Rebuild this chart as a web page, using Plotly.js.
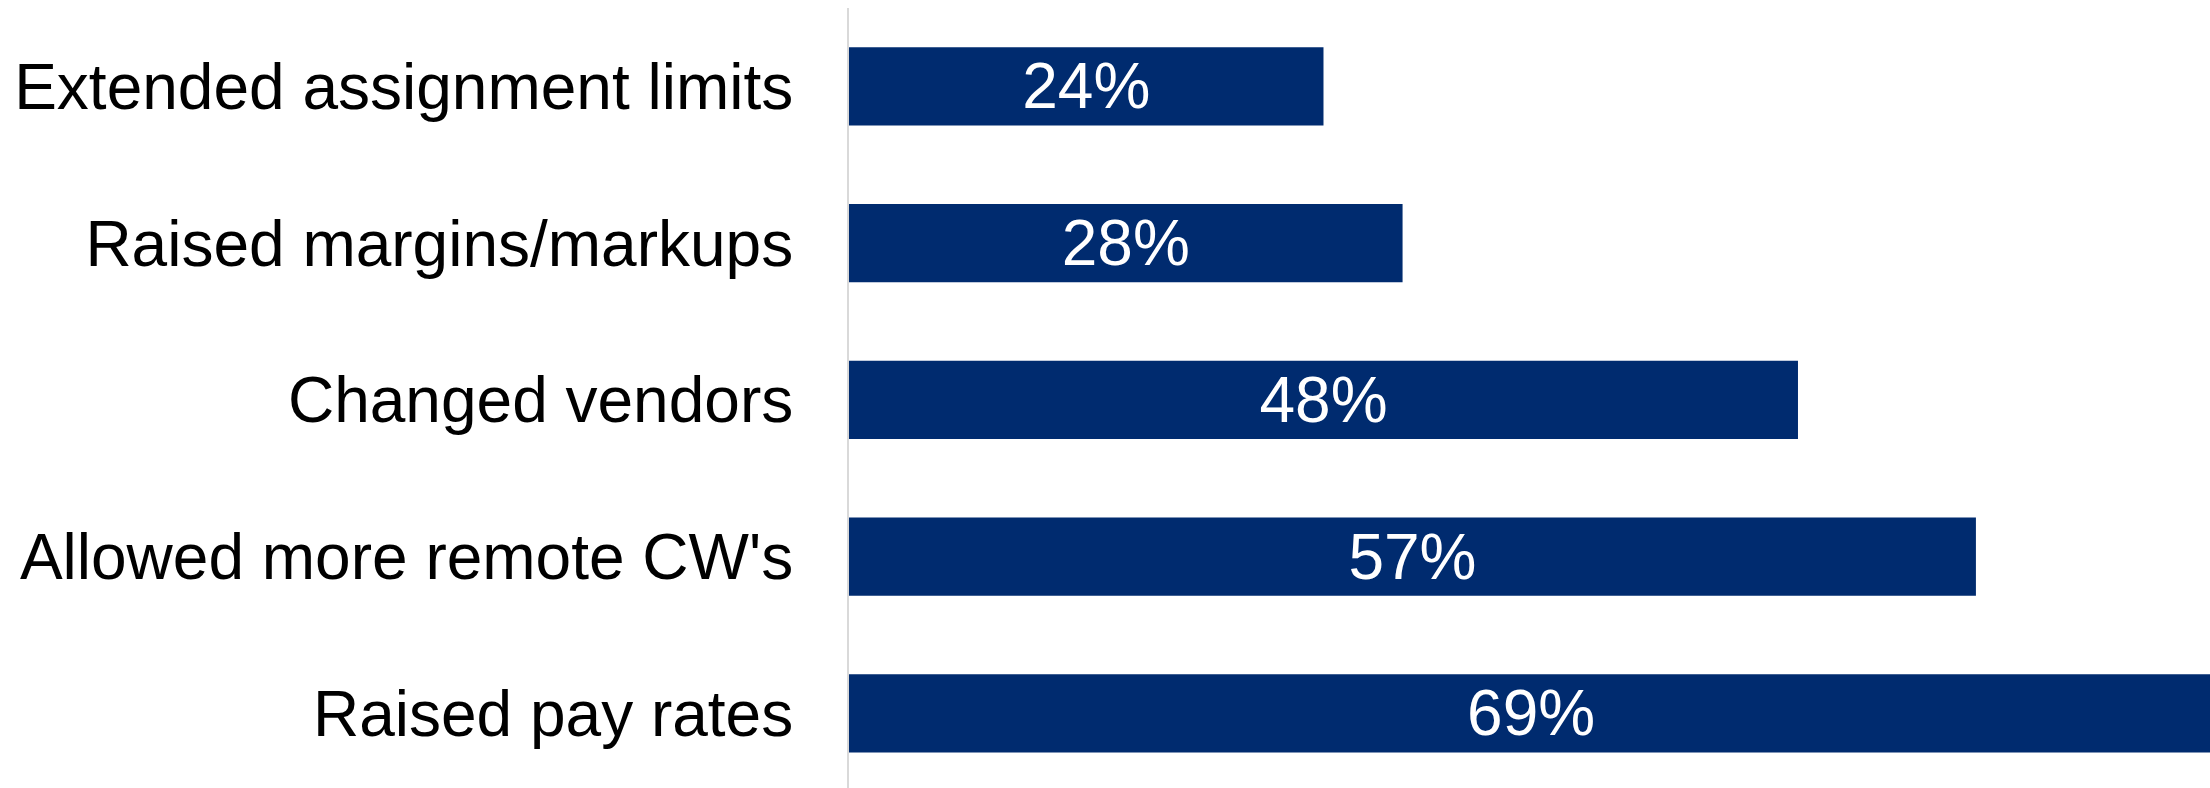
<!DOCTYPE html>
<html>
<head>
<meta charset="utf-8">
<script src="https://cdn.plot.ly/plotly-3.0.1.min.js"></script>
<style>html,body{margin:0;padding:0;background:#fff;}#chart{width:2210px;height:788px;}</style>
</head>
<body>
<div id="chart"></div>
<script>
// categories listed bottom to top
const categories = ["Raised pay rates", "Allowed more remote CW's", "Changed vendors", "Raised margins/markups", "Extended assignment limits"];
const values = [69, 57, 48, 28, 24];
const valueLabels = ["69%", "57%", "48%", "28%", "24%"];

const trace = {
  type: 'bar',
  orientation: 'h',
  y: categories,
  x: values,
  text: valueLabels,
  textposition: 'inside',
  insidetextanchor: 'middle',
  textangle: 0,
  constraintext: 'none',
  textfont: {family: 'Liberation Sans, Arial, sans-serif', size: 64, color: '#ffffff'},
  marker: {color: '#002B6F'},
  width: 0.5,
  hoverinfo: 'none',
  cliponaxis: true
};

const layout = {
  width: 2210,
  height: 788,
  margin: {l: 849, r: 0, t: 8, b: 0, pad: 0},
  paper_bgcolor: '#ffffff',
  plot_bgcolor: '#ffffff',
  showlegend: false,
  uniformtext: {minsize: 64, mode: 'show'},
  xaxis: {
    range: [0, 68.84],
    showgrid: false,
    zeroline: false,
    showline: false,
    showticklabels: false,
    ticks: ''
  },
  yaxis: {
    type: 'category',
    range: [-0.476, 4.5],
    showgrid: false,
    zeroline: false,
    showline: true,
    linecolor: '#d9d9d9',
    linewidth: 2,
    ticks: '',
    ticklabelstandoff: 41,
    tickfont: {family: 'Liberation Sans, Arial, sans-serif', size: 64, color: '#000000'}
  }
};

Plotly.newPlot('chart', [trace], layout, {displayModeBar: false, staticPlot: true});
</script>
</body>
</html>
